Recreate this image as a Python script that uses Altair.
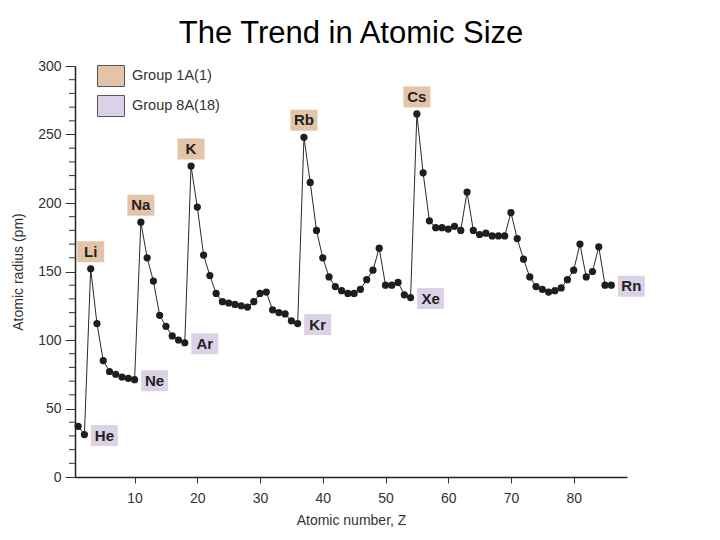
import altair as alt
import pandas as pd

# Atomic number and atomic radius (pm)
atomic_number = list(range(1, 87))
radius_pm = [
    37, 31,
    152, 112, 85, 77, 75, 73, 72, 71,
    186, 160, 143, 118, 110, 103, 100, 98,
    227, 197, 162, 147, 134, 128, 127, 126, 125, 124, 128, 134, 135, 122, 120, 119, 114, 112,
    248, 215, 180, 160, 146, 139, 136, 134, 134, 137, 144, 151, 167, 140, 140, 142, 133, 131,
    265, 222, 187, 182, 182, 181, 183, 180, 208, 180, 177, 178, 176, 176, 176, 193, 174,
    159, 146, 139, 137, 135, 136, 138, 144, 151, 170, 146, 150, 168, 140, 140,
]

# Labelled elements
alkali_symbols = ["Li", "Na", "K", "Rb", "Cs"]
alkali_z = [3, 11, 19, 37, 55]
noble_symbols = ["He", "Ne", "Ar", "Kr", "Xe", "Rn"]
noble_z = [2, 10, 18, 36, 54, 86]

group_names = ["Group 1A(1)", "Group 8A(18)"]
group_colors = ["#e4c4a8", "#dcd2e8"]

x_ticks = [10, 20, 30, 40, 50, 60, 70, 80]
y_major = [0, 50, 100, 150, 200, 250, 300]
y_minor = [v for v in range(10, 300, 10) if v % 50 != 0]

FONT = "Liberation Sans"

data = pd.DataFrame({"Z": atomic_number, "r": radius_pm})
lab_a = pd.DataFrame({
    "Z": alkali_z,
    "sym": alkali_symbols,
    "r": [radius_pm[z - 1] for z in alkali_z],
    "group": group_names[0],
})
lab_n = pd.DataFrame({
    "Z": noble_z,
    "sym": noble_symbols,
    "r": [radius_pm[z - 1] for z in noble_z],
    "group": group_names[1],
})
minor_df = pd.DataFrame({"r": y_minor})

xs = alt.Scale(domain=[0.5, 88.5], nice=False, zero=False)
ys = alt.Scale(domain=[0, 300], nice=False)

x_enc = alt.X(
    "Z:Q", scale=xs,
    axis=alt.Axis(
        values=x_ticks, title="Atomic number, Z", grid=False,
        tickSize=6, tickColor="#333", domainColor="#222", domainWidth=1.5,
        labelFont=FONT, labelFontSize=14, labelColor="#333", labelPadding=8,
        titleFont=FONT, titleFontSize=14, titleFontWeight="normal", titleColor="#333",
        titlePadding=8,
    ),
)
y_enc = alt.Y(
    "r:Q", scale=ys,
    axis=alt.Axis(
        values=y_major, title="Atomic radius (pm)", grid=False,
        tickSize=10, tickColor="#333", domainColor="#222", domainWidth=1.5,
        labelFont=FONT, labelFontSize=14, labelColor="#333", labelPadding=4,
        labelOverlap=False, labelFlush=False,
        titleFont=FONT, titleFontSize=14, titleFontWeight="normal", titleColor="#333",
        titlePadding=12,
    ),
)

base = alt.Chart(data)
line = base.mark_line(color="#2a2a2a", strokeWidth=1).encode(x=x_enc, y=y_enc)
pts = base.mark_circle(size=52, color="#1e1e1e", opacity=1).encode(x="Z:Q", y="r:Q")

minor = alt.Chart(minor_df).mark_rule(color="#333", strokeWidth=1).encode(
    x=alt.value(-6), x2=alt.value(0), y=alt.Y("r:Q", scale=ys)
)

BOX = "M-1.286,-1L1.286,-1L1.286,1L-1.286,1Z"
color_enc = alt.Color(
    "group:N",
    scale=alt.Scale(domain=group_names, range=group_colors),
    legend=alt.Legend(
        title=None, orient="none", legendX=25, legendY=-1, padding=0,
        symbolType=BOX, symbolSize=441, symbolStrokeColor="#555",
        symbolStrokeWidth=1, symbolOpacity=1,
        labelFont=FONT, labelFontSize=14.5, labelColor="#333",
        labelOffset=10, rowPadding=4,
    ),
)

box_a = alt.Chart(lab_a).mark_point(
    shape=BOX, size=441, filled=True, opacity=1, strokeWidth=0, yOffset=-17
).encode(x="Z:Q", y="r:Q", color=color_enc)
box_n = alt.Chart(lab_n).mark_point(
    shape=BOX, size=441, filled=True, opacity=1, strokeWidth=0, xOffset=20, yOffset=1
).encode(x="Z:Q", y="r:Q", color=color_enc)

txt_a = alt.Chart(lab_a).mark_text(
    font=FONT, fontSize=15, fontWeight="bold", color="#222", dy=-17, baseline="middle"
).encode(x="Z:Q", y="r:Q", text="sym:N")
txt_n = alt.Chart(lab_n).mark_text(
    font=FONT, fontSize=15, fontWeight="bold", color="#222", dx=20, dy=1, baseline="middle"
).encode(x="Z:Q", y="r:Q", text="sym:N")

chart = alt.layer(line, minor, pts, box_a, box_n, txt_a, txt_n).properties(
    width=552, height=411,
    autosize=alt.AutoSizeParams(type="none"),
    padding={"left": 67, "top": 58, "right": 85, "bottom": 55},
    title=alt.TitleParams(
        "The Trend in Atomic Size", font=FONT, fontSize=31, fontWeight="normal",
        color="#000", anchor="middle", offset=9,
    ),
).configure_view(stroke=None)

chart.save("out.html", embed_options={"renderer": "svg", "actions": False})
